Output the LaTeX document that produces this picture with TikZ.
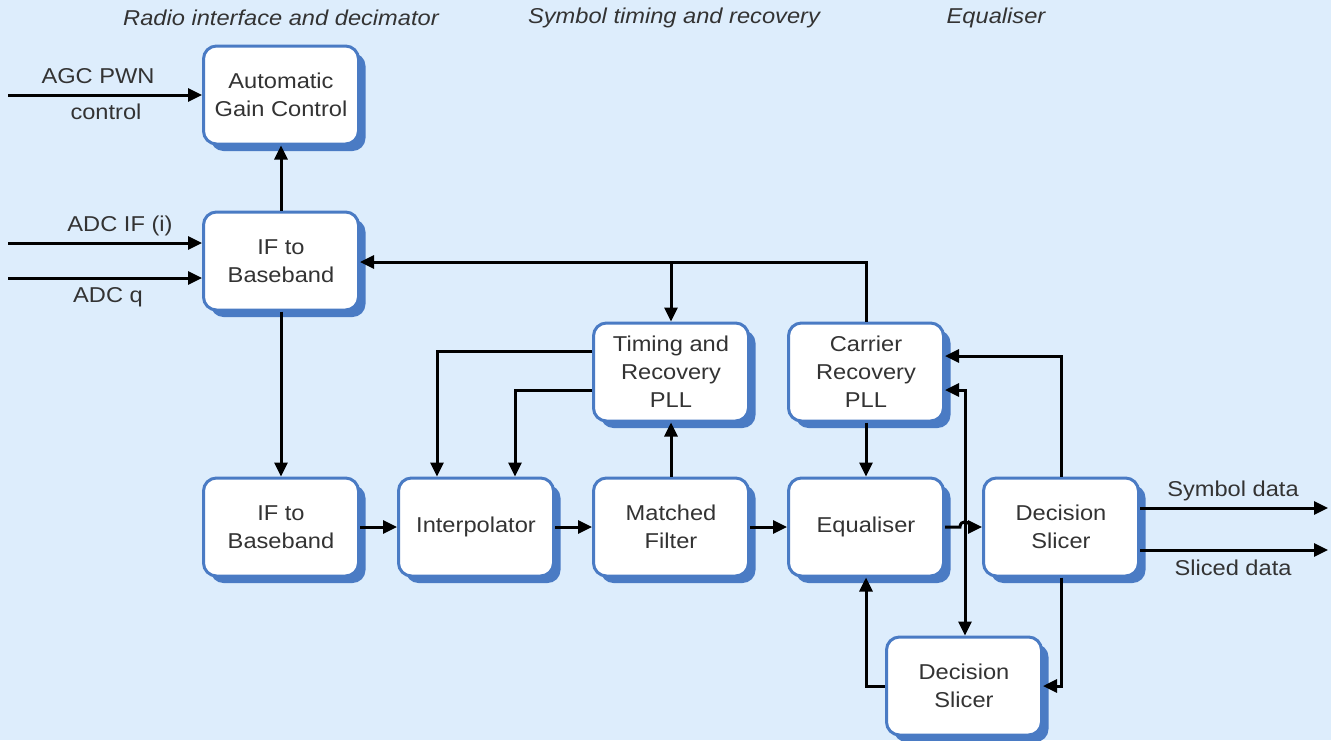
\documentclass[tikz,border=0pt]{standalone}
\usepackage{fontspec}
\setmainfont{Liberation Sans}[FakeStretch=1.1]
\usetikzlibrary{arrows.meta,shadows}
\definecolor{bg}{HTML}{DDEDFC}
\definecolor{boxblue}{HTML}{4A7BC4}
\tikzset{
  blk/.style={draw=boxblue, line width=3pt, fill=white, rounded corners=13pt,
    minimum width=155pt, minimum height=98pt, align=center,
    font=\fontsize{21.5}{28}\selectfont, text=black!80,
    drop shadow={shadow xshift=7pt, shadow yshift=-7pt, fill=boxblue, opacity=1}},
  conn/.style={line width=3pt, -{Triangle[length=14pt,width=13pt]}},
  both/.style={line width=3pt, {Triangle[length=14pt,width=13pt]}-{Triangle[length=14pt,width=13pt]}},
  lbl/.style={font=\fontsize{21.5}{24}\selectfont, text=black!80},
  hdr/.style={font=\fontsize{21.5}{24}\selectfont\itshape, text=black!80}
}
\begin{document}
\begin{tikzpicture}[x=1pt,y=-1pt]
\fill[bg] (0,0) rectangle (1331,740);
\useasboundingbox (0,0) rectangle (1331,740);
\node[hdr] (h1) at (281,18) {Radio interface and decimator};
\node[hdr] (h2) at (674,18) {Symbol timing and recovery};
\node[hdr] (h3) at (996,18) {Equaliser};

\node[blk] (agc) at (281,95) {Automatic\\Gain Control};
\node[blk] (if1) at (281,261) {IF to\\Baseband};
\node[blk] (if2) at (281,527) {IF to\\Baseband};
\node[blk] (int) at (476,527) {Interpolator};
\node[blk] (mf) at (671,527) {Matched\\Filter};
\node[blk] (eq) at (866,527) {Equaliser};
\node[blk] (ds) at (1061,527) {Decision\\Slicer};
\node[blk] (tim) at (671,372) {Timing and\\Recovery\\PLL};
\node[blk] (car) at (866,372) {Carrier\\Recovery\\PLL};
\node[blk] (ds2) at (964,686) {Decision\\Slicer};

% inputs
\coordinate (inA) at (8,95);
\coordinate (inB) at (8,243);
\coordinate (inC) at (8,278);
\draw[conn] (inA) -- (inA -| agc.west);
\node[lbl] (tA) at (98,76) {AGC PWN};
\node[lbl] (tA2) at (106,112) {control};
\draw[conn] (inB) -- (inB -| if1.west);
\node[lbl] (tB) at (120,226) {ADC IF (i)};
\draw[conn] (inC) -- (inC -| if1.west);
\node[lbl] (tC) at (108,297) {ADC q};

% vertical radio chain
\draw[conn] (if1.north) -- (agc.south);
\draw[conn] (if1.south) -- (if2.north);

% main chain
\draw[conn] (if2.east) -- (int.west);
\draw[conn] (int.east) -- (mf.west);
\draw[conn] (mf.east) -- (eq.west);
\coordinate (hopA) at (960,527);
\coordinate (hopB) at (970,527);
\draw[conn] (eq.east) -- (hopA) .. controls (960,520) and (970,520) .. (hopB) -- (ds.west);

% timing loop
\draw[conn] (mf.north) -- (tim.south);
\coordinate (t1) at (437,351);
\coordinate (t2) at (515,390);
\draw[conn] (t1 -| tim.west) -- (t1) -- (t1 |- int.north);
\draw[conn] (t2 -| tim.west) -- (t2) -- (t2 |- int.north);

% carrier feedback to IF
\coordinate (fb) at (866,262);
\draw[conn] (car.north) -- (fb) -- (fb -| if1.east);
\coordinate (fbt) at (671,262);
\draw[conn] (fbt) -- (tim.north);

% carrier to equaliser
\draw[conn] (car.south) -- (eq.north);

% decision slicer to carrier
\coordinate (dsu) at (1061,356);
\draw[conn] (ds.north) -- (dsu) -- (dsu -| car.east);

% carrier <-> lower slicer
\coordinate (cl) at (965,390);
\draw[both] (cl -| car.east) -- (cl) -- (cl |- ds2.north);

% lower slicer to equaliser
\coordinate (dl) at (866,686);
\draw[conn] (ds2.west) -- (dl) -- (eq.south);

% decision slicer to lower slicer
\coordinate (dr) at (1061,686);
\draw[conn] (ds.south) -- (dr) -- (ds2.east);

% outputs
\coordinate (o1) at (1328,508);
\coordinate (o2) at (1328,550);
\draw[conn] (o1 -| ds.east) -- (o1);
\draw[conn] (o2 -| ds.east) -- (o2);
\node[lbl] (so) at (1233,491) {Symbol data};
\node[lbl] (sl) at (1233,568) {Sliced data};
\end{tikzpicture}
\end{document}
